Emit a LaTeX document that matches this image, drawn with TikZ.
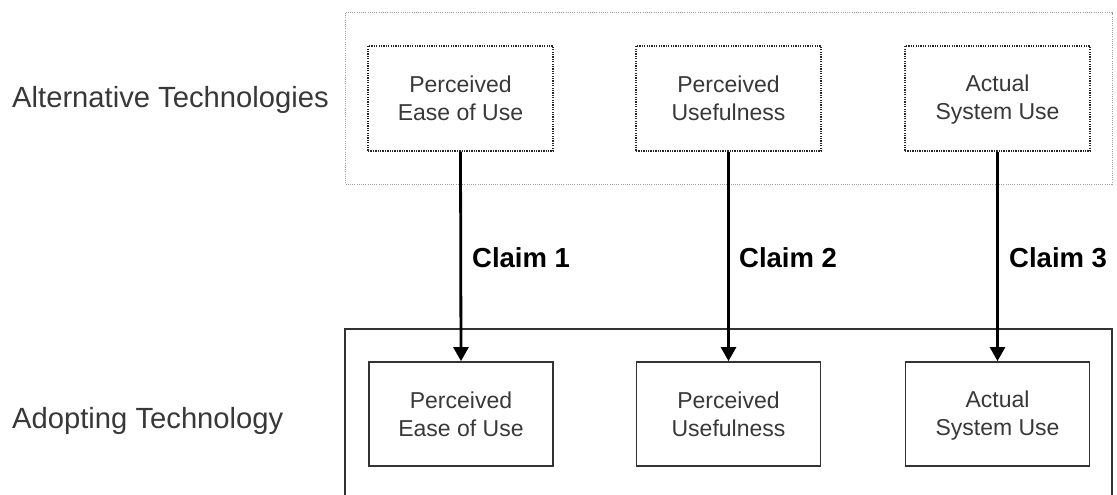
\documentclass[tikz,border=0pt]{standalone}
\usepackage{fontspec}
\setmainfont{Liberation Sans}
\usetikzlibrary{arrows.meta}
\definecolor{txt}{HTML}{383838}
\definecolor{frame}{HTML}{A0A0A0}
\newcommand{\boxln}{\rule[-3pt]{0pt}{22pt}}
\tikzset{
  boxtext/.style={inner sep=0pt, align=center, font=\fontsize{23}{28}\selectfont, text=txt},
  dotbox/.style={boxtext, draw=black!85, line width=1.4pt, dash pattern=on 1.3pt off 1.1pt, minimum width=185pt, minimum height=105pt},
  solidbox/.style={boxtext, draw=black!80, line width=1.8pt, minimum width=184pt, minimum height=104pt},
  claimarrow/.style={line width=2.8pt, -{Triangle[width=15pt,length=14pt]}},
  claimlabel/.style={font=\bfseries\fontsize{27.5}{32}\selectfont, anchor=base west, inner sep=0pt},
  sidelabel/.style={font=\fontsize{29.2}{32}\selectfont, anchor=base west, inner sep=0pt, text=txt}
}
\begin{document}
\begin{tikzpicture}[x=1pt,y=-1pt]
\useasboundingbox (0,0) rectangle (1117,495);
% outer frames
\draw[frame, line width=1pt, dash pattern=on 1pt off 1.2pt] (345,13) rectangle (1112,184);
\draw[black!80, line width=1.8pt] (345,500) -- (345,329) -- (1112,329) -- (1112,500);
% side labels
\node[sidelabel] (alt) at (12,107) {Alternative Technologies};
\node[sidelabel] (adopt) at (12,428) {Adopting Technology};
% top boxes
\node[dotbox] (t1) at (460.5,98.5) {\boxln Perceived\\\boxln Ease of Use};
\node[dotbox] (t2) at (728.5,98.5) {\boxln Perceived\\\boxln Usefulness};
\node[dotbox] (t3) at (997.5,98.5) {\boxln Actual\\\boxln System Use};
% bottom boxes
\node[solidbox] (b1) at (461,414) {\boxln Perceived\\\boxln Ease of Use};
\node[solidbox] (b2) at (728.5,414) {\boxln Perceived\\\boxln Usefulness};
\node[solidbox] (b3) at (997.5,414) {\boxln Actual\\\boxln System Use};
% arrows
\draw[claimarrow] (t1.south) -- (b1.north);
\draw[claimarrow] (t2.south) -- (b2.north);
\draw[claimarrow] (t3.south) -- (b3.north);
% claims
\node[claimlabel] (c1) at (472,267) {Claim 1};
\node[claimlabel] (c2) at (739,267) {Claim 2};
\node[claimlabel] (c3) at (1009,267) {Claim 3};
\end{tikzpicture}
\end{document}
